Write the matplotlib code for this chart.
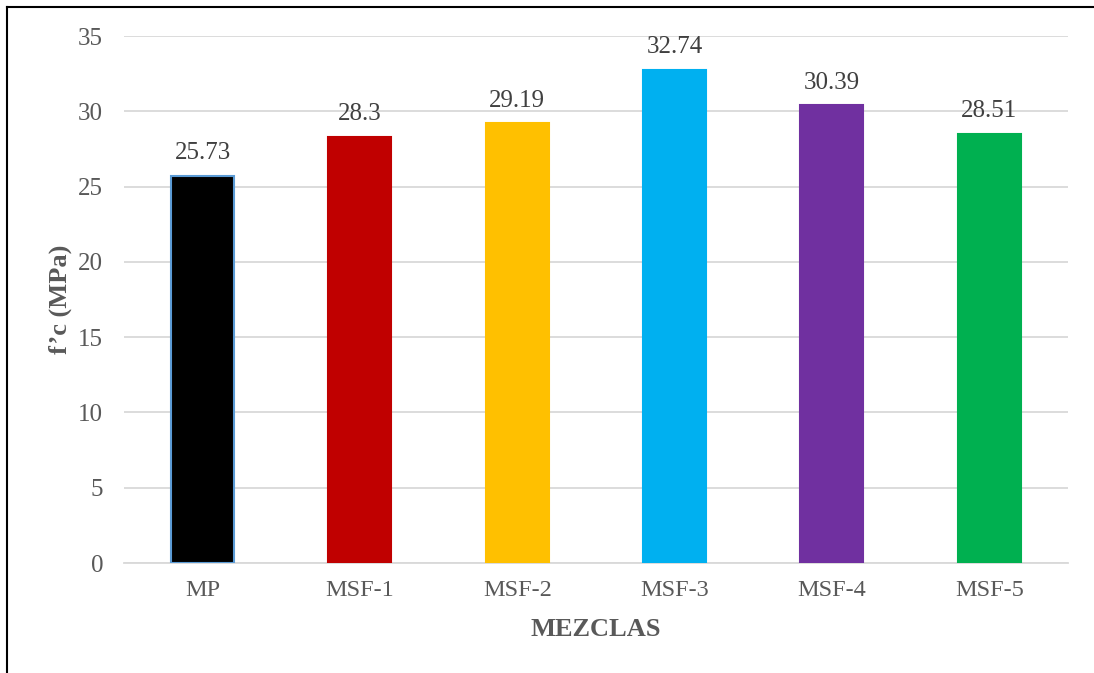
import numpy as np
import matplotlib.pyplot as plt
from matplotlib.lines import Line2D

# datos de resistencia a compresion
mezclas = ['MP', 'MSF-1', 'MSF-2', 'MSF-3', 'MSF-4', 'MSF-5']
fc = [25.73, 28.3, 29.19, 32.74, 30.39, 28.51]
etiquetas = ['25.73', '28.3', '29.19', '32.74', '30.39', '28.51']
colores = ['#000000', '#c00000', '#ffc000', '#00b0f0', '#7030a0', '#00b050']
bordes = ['#5b9bd5', '#c00000', '#ffc000', '#00b0f0', '#7030a0', '#00b050']

plt.rcParams['font.family'] = ['Liberation Serif', 'DejaVu Serif']

fig = plt.figure(figsize=(10.94, 6.73), dpi=100)
ax = fig.add_axes([0.1133, 0.1634, 0.8629, 0.7831])

x = np.arange(len(mezclas))
bars = ax.bar(x, fc, width=0.4, color=colores, edgecolor=bordes, linewidth=1.5, zorder=3)

for b, txt in zip(bars, etiquetas):
    ax.annotate(txt, (b.get_x() + b.get_width() / 2, b.get_height()),
                xytext=(0, 16.5), textcoords='offset points', ha='center', va='center',
                fontsize=18, color='#404040')

ax.set_xlim(-0.5, len(mezclas) - 0.5)
ax.set_ylim(0, 35)
ax.set_yticks(np.arange(0, 36, 5))
ax.set_xticks(x)
ax.set_xticklabels(mezclas)
ax.yaxis.grid(True, color='#d9d9d9', linewidth=1.3, zorder=0)
ax.tick_params(axis='y', length=0, labelsize=18, labelcolor='#595959', pad=15)
ax.tick_params(axis='x', length=0, labelsize=17.5, labelcolor='#595959', pad=12)
for s in ['top', 'right', 'left']:
    ax.spines[s].set_visible(False)
ax.spines['bottom'].set_color('#d9d9d9')
ax.spines['bottom'].set_linewidth(1.3)

ax.set_ylabel('f’c (MPa)', fontsize=19, fontweight='bold', color='#595959', va='center')
ax.yaxis.set_label_coords(-0.0678, 0.5)
ax.set_xlabel('MEZCLAS', fontsize=19, fontweight='bold', color='#595959', va='center')
ax.xaxis.set_label_coords(0.5, -0.127)

# marco parcial del grafico
fig.add_artist(Line2D([0.0064, 1.0], [0.9896, 0.9896], color='black', linewidth=1.5))
fig.add_artist(Line2D([0.0064, 0.0064], [0.0, 0.9896], color='black', linewidth=1.5))

fig.savefig('out.png', dpi=100)
